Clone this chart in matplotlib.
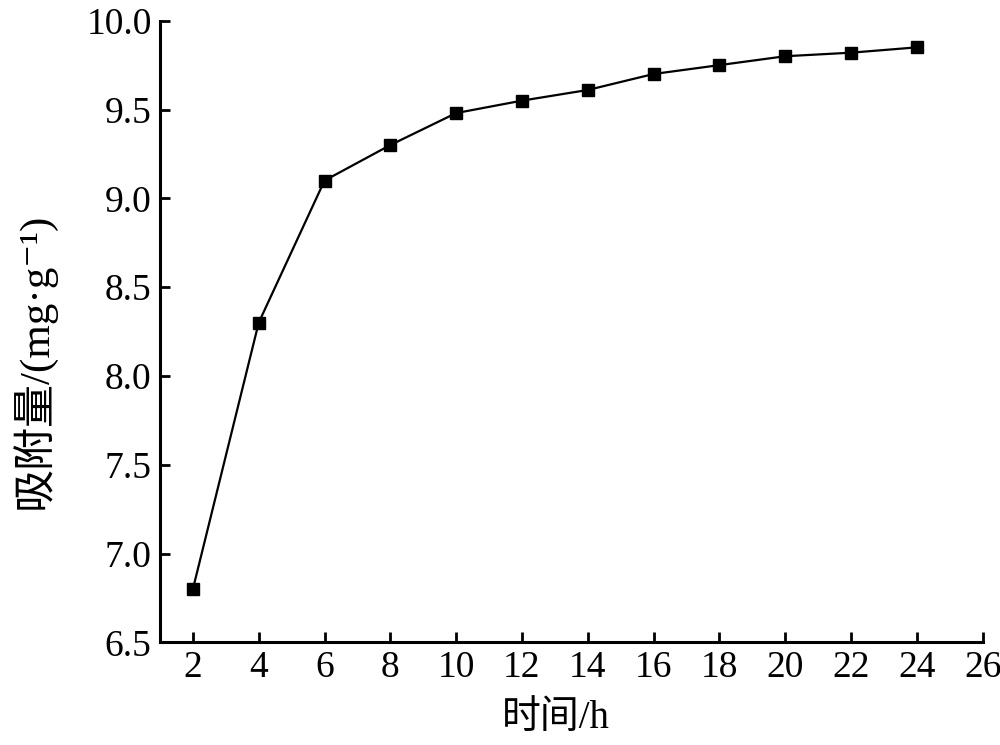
import matplotlib
matplotlib.use("Agg")
import matplotlib.pyplot as plt

time_h = [2, 4, 6, 8, 10, 12, 14, 16, 18, 20, 22, 24]
adsorption = [6.80, 8.30, 9.10, 9.30, 9.48, 9.55, 9.61, 9.70, 9.75, 9.80, 9.82, 9.85]
xticks = list(range(2, 27, 2))
yticks = [6.5, 7.0, 7.5, 8.0, 8.5, 9.0, 9.5, 10.0]

plt.rcParams['font.family'] = ['Liberation Serif', 'Noto Sans CJK SC', 'DejaVu Serif']

fig = plt.figure(figsize=(10, 7.45), dpi=100)
ax = fig.add_axes([0.160, 0.1378, 0.8227, 0.8344])
ax.plot(time_h, adsorption, color='black', lw=1.6, marker='s', ms=8.5,
        markerfacecolor='black', markeredgecolor='black')
ax.set_xlim(1, 26)
ax.set_ylim(6.5, 10.0)
ax.set_xticks(xticks)
ax.set_yticks(yticks)
ax.set_yticklabels([f"{v:.1f}" for v in yticks])
for s in ['top', 'right']:
    ax.spines[s].set_visible(False)
for s in ['left', 'bottom']:
    ax.spines[s].set_linewidth(2.2)
ax.tick_params(direction='in', length=7, width=2, labelsize=27, pad=6)
ax.set_xlabel('时间/h', fontsize=28)
ax.set_ylabel('吸附量/(mg·g⁻¹)', fontsize=31)
ax.xaxis.set_label_coords(0.481, -0.092)
ax.xaxis.label.set_va('top')
ax.yaxis.set_label_coords(-0.127, 0.4525)
fig.savefig('out.png', dpi=100)
